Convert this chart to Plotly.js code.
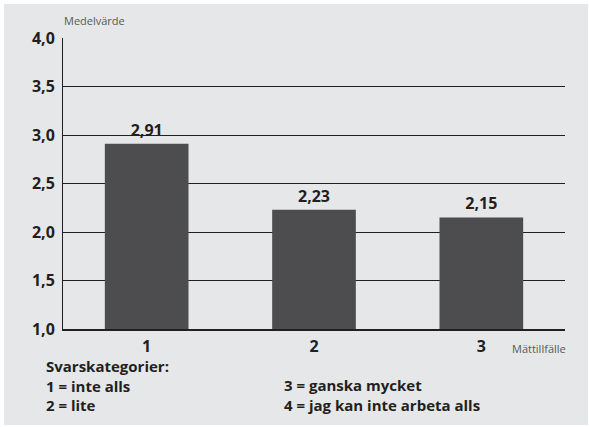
<!DOCTYPE html>
<html>
<head>
<meta charset="utf-8">
<script src="https://cdn.plot.ly/plotly-3.0.1.min.js"></script>
<style>
html,body{margin:0;padding:0;background:#ffffff;}
#chart{position:absolute;left:4px;top:4px;width:584px;height:421px;}
</style>
</head>
<body>
<div id="chart"></div>
<script>
const categories = ["1", "2", "3"];
const values = [2.91, 2.23, 2.15];
const yTicks = [1.0, 1.5, 2.0, 2.5, 3.0, 3.5, 4.0];
const yAxisLabel = "Medelvärde";
const xAxisLabel = "Mättillfälle";
const legendTitle = "Svarskategorier:";
const legendLeft = ["1 = inte alls", "2 = lite"];
const legendRight = ["3 = ganska mycket", "4 = jag kan inte arbeta alls"];

// page pixel -> paper coordinates (plot area: x 63..565, y 38..329 in page px)
const PL = 63, PR = 565, PT = 38, PB = 329;
const px = x => (x - PL) / (PR - PL);
const py = y => (PB - y) / (PB - PT);

const FONT = '"Open Sans", "Noto Sans", sans-serif';
const ink = '#231f20';
const bold = t => '<b>' + t + '</b>';

const annotations = [
  {text: yAxisLabel, x: px(62), y: py(21), xanchor: 'left', yanchor: 'middle',
   font: {size: 11, color: '#58595b', family: FONT}},
  {text: xAxisLabel, x: px(510), y: py(348), xanchor: 'left', yanchor: 'middle',
   font: {size: 11, color: '#58595b', family: FONT}},
  {text: [legendTitle].concat(legendLeft).map(bold).join('<br>'), x: px(44), y: py(385.5),
   xanchor: 'left', yanchor: 'middle', align: 'left',
   font: {size: 15, color: ink, family: FONT}},
  {text: legendRight.map(bold).join('<br>'), x: px(282), y: py(395),
   xanchor: 'left', yanchor: 'middle', align: 'left',
   font: {size: 15, color: ink, family: FONT}}
];
annotations.forEach(a => { a.xref = 'paper'; a.yref = 'paper'; a.showarrow = false; });

const trace = {
  type: 'bar',
  x: categories,
  y: values,
  marker: {color: '#4d4d4f', line: {width: 0}},
  width: 0.5,
  text: values,
  texttemplate: '<b>%{y:.2f}</b>',
  textposition: 'outside',
  cliponaxis: false,
  textfont: {size: 16, color: ink, family: FONT},
  hoverinfo: 'none'
};

const layout = {
  width: 584, height: 421,
  margin: {l: 59, r: 23, t: 34, b: 96, pad: 0},
  paper_bgcolor: '#e6e7e8',
  plot_bgcolor: '#e6e7e8',
  separators: ',.',
  showlegend: false,
  font: {family: FONT, color: ink},
  bargap: 0.5,
  xaxis: {
    type: 'category',
    range: [-0.5, 2.5],
    showgrid: false,
    showline: true, linecolor: ink, linewidth: 2,
    ticks: 'outside', ticklen: 2, tickcolor: 'rgba(0,0,0,0)',
    tickfont: {size: 16, color: ink, family: FONT},
    tickprefix: '<b>', ticksuffix: '</b>',
    zeroline: false, fixedrange: true
  },
  yaxis: {
    range: [1, 4],
    tickvals: yTicks,
    ticktext: yTicks.map(v => bold(v.toFixed(1).replace('.', ','))),
    showgrid: true, gridcolor: ink, gridwidth: 1,
    showline: true, linecolor: ink, linewidth: 1,
    ticks: 'outside', ticklen: 4, tickcolor: 'rgba(0,0,0,0)',
    tickfont: {size: 16, color: ink, family: FONT},
    zeroline: false, fixedrange: true
  },
  annotations: annotations
};

Plotly.newPlot('chart', [trace], layout, {staticPlot: true, displayModeBar: false});
</script>
</body>
</html>
